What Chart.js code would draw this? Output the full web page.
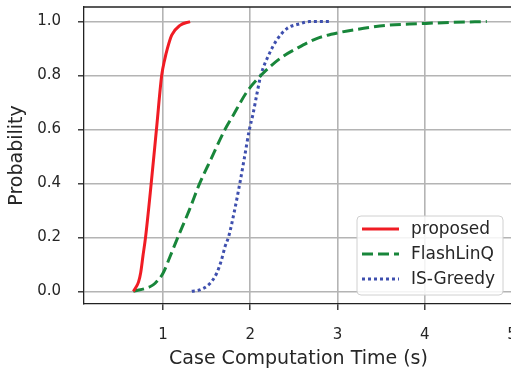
<!DOCTYPE html>
<html>
<head>
<meta charset="utf-8">
<script src="https://cdn.jsdelivr.net/npm/chart.js@4/dist/chart.umd.min.js"></script>
<style>
  html, body { margin: 0; padding: 0; background: #fff; overflow: hidden; }
  #wrap { width: 530px; height: 371px; }
</style>
</head>
<body>
<div id="wrap"><canvas id="c" width="530" height="371"></canvas></div>
<script>
// ---- data ----
const seriesNames = ['proposed', 'FlashLinQ', 'IS-Greedy'];

const proposedX = [0.66, 0.69, 0.72, 0.745, 0.77, 0.80, 0.865, 0.925, 0.985, 1.02, 1.05, 1.10, 1.195, 1.31];
const proposedY = [0.0, 0.015, 0.035, 0.07, 0.13, 0.2, 0.4, 0.6, 0.8, 0.86, 0.9, 0.95, 0.986, 1.0];

const flashX = [0.66, 0.85, 0.91, 1.0, 1.08, 1.157, 1.30, 1.42, 1.55, 1.71, 1.805, 1.96, 2.12, 2.34, 2.53, 2.76, 3.03, 3.30, 3.56, 3.94, 4.30, 4.71];
const flashY = [0.0, 0.017, 0.03, 0.067, 0.128, 0.19, 0.30, 0.40, 0.49, 0.60, 0.653, 0.739, 0.80, 0.863, 0.9, 0.937, 0.96, 0.975, 0.986, 0.992, 0.997, 1.0];

const greedyX = [1.33, 1.42, 1.54, 1.615, 1.67, 1.71, 1.75, 1.82, 1.88, 1.93, 1.99, 2.03, 2.075, 2.12, 2.21, 2.30, 2.42, 2.57, 2.68, 2.93];
const greedyY = [0.0, 0.005, 0.03, 0.067, 0.116, 0.165, 0.2, 0.30, 0.40, 0.49, 0.60, 0.655, 0.73, 0.80, 0.875, 0.93, 0.974, 0.992, 1.0, 1.0];

const xTicks = [1, 2, 3, 4, 5];
const yTicks = [0.0, 0.2, 0.4, 0.6, 0.8, 1.0];

const xTitle = 'Case Computation Time (s)';
const yTitle = 'Probability';

// ---- styling ----
const FONT = 'DejaVu Sans';
const TXT = '#262626';
const colors = ['#f01c24', '#18863a', '#3e4fae'];
const dashes = [[], [11, 5], [3, 3]];

const toPts = (xs, ys) => xs.map((x, i) => ({ x: x, y: ys[i] }));

const datasets = [
  toPts(proposedX, proposedY),
  toPts(flashX, flashY),
  toPts(greedyX, greedyY)
].map((d, i) => ({
  label: seriesNames[i],
  data: d,
  borderColor: colors[i],
  backgroundColor: colors[i],
  borderWidth: 3,
  borderDash: dashes[i],
  borderCapStyle: 'butt',
  pointRadius: 0,
  fill: false,
  cubicInterpolationMode: 'monotone'
}));

const framePlugin = {
  id: 'frame',
  afterDatasetsDraw(chart) {
    const { ctx, chartArea: a } = chart;
    ctx.save();
    ctx.strokeStyle = '#222';
    ctx.lineWidth = 1.3;
    ctx.beginPath();
    ctx.moveTo(a.left, a.top);
    ctx.lineTo(a.right, a.top);
    ctx.stroke();
    ctx.restore();
  }
};

const legendPlugin = {
  id: 'boxLegend',
  afterDraw(chart) {
    const { ctx, chartArea: a } = chart;
    const w = 146, h = 79;
    const x0 = a.right - 10 - w, y0 = a.bottom - 9 - h;
    ctx.save();
    const r = 4;
    ctx.beginPath();
    ctx.moveTo(x0 + r, y0);
    ctx.arcTo(x0 + w, y0, x0 + w, y0 + h, r);
    ctx.arcTo(x0 + w, y0 + h, x0, y0 + h, r);
    ctx.arcTo(x0, y0 + h, x0, y0, r);
    ctx.arcTo(x0, y0, x0 + w, y0, r);
    ctx.closePath();
    ctx.fillStyle = 'rgba(255,255,255,0.85)';
    ctx.fill();
    ctx.strokeStyle = '#d0d0d0';
    ctx.lineWidth = 1;
    ctx.stroke();
    ctx.font = '17px "' + FONT + '"';
    ctx.textBaseline = 'middle';
    ctx.textAlign = 'left';
    chart.data.datasets.forEach((ds, i) => {
      const yy = y0 + 13 + i * 25;
      ctx.beginPath();
      ctx.setLineDash(ds.borderDash || []);
      ctx.lineCap = 'butt';
      ctx.strokeStyle = ds.borderColor;
      ctx.lineWidth = ds.borderWidth;
      ctx.moveTo(x0 + 5, yy);
      ctx.lineTo(x0 + 42, yy);
      ctx.stroke();
      ctx.setLineDash([]);
      ctx.fillStyle = TXT;
      ctx.fillText(ds.label, x0 + 54, yy + 1);
    });
    ctx.restore();
  }
};

new Chart(document.getElementById('c'), {
  type: 'line',
  data: { datasets: datasets },
  options: {
    responsive: false,
    animation: false,
    devicePixelRatio: 1,
    layout: { padding: { top: 7, right: 17, left: 0, bottom: 0 } },
    plugins: { legend: { display: false }, tooltip: { enabled: false } },
    scales: {
      x: {
        type: 'linear',
        min: 0.095,
        max: 5.01,
        afterBuildTicks: (s) => { s.ticks = xTicks.map(v => ({ value: v })); },
        afterFit: (s) => { s.height = 67; s.paddingLeft = 0; s.paddingRight = 0; },
        grid: { color: '#b4b4b4', lineWidth: 1.6, tickLength: 6, tickColor: '#222', tickWidth: 1.3 },
        border: { display: true, color: '#222', width: 1.3 },
        ticks: {
          color: TXT, font: { family: FONT, size: 15 }, padding: 16, maxRotation: 0,
          callback: (v) => String(v)
        },
        title: {
          display: true, text: xTitle, color: TXT,
          font: { family: FONT, size: 19 }, padding: { top: 0, bottom: 1 }
        }
      },
      y: {
        type: 'linear',
        min: -0.047,
        max: 1.054,
        afterBuildTicks: (s) => { s.ticks = yTicks.map(v => ({ value: v })); },
        afterFit: (s) => { s.width = 84; s.paddingTop = 0; s.paddingBottom = 0; },
        grid: { color: '#b4b4b4', lineWidth: 1.6, tickLength: 6, tickColor: '#222', tickWidth: 1.3 },
        border: { display: true, color: '#222', width: 1.3 },
        ticks: {
          color: TXT, font: { family: FONT, size: 15 }, padding: 17,
          callback: (v) => Number(v).toFixed(1)
        },
        title: {
          display: true, text: yTitle, color: TXT,
          font: { family: FONT, size: 19 }, padding: { top: 6, bottom: 0 }
        }
      }
    }
  },
  plugins: [framePlugin, legendPlugin]
});
</script>
</body>
</html>
